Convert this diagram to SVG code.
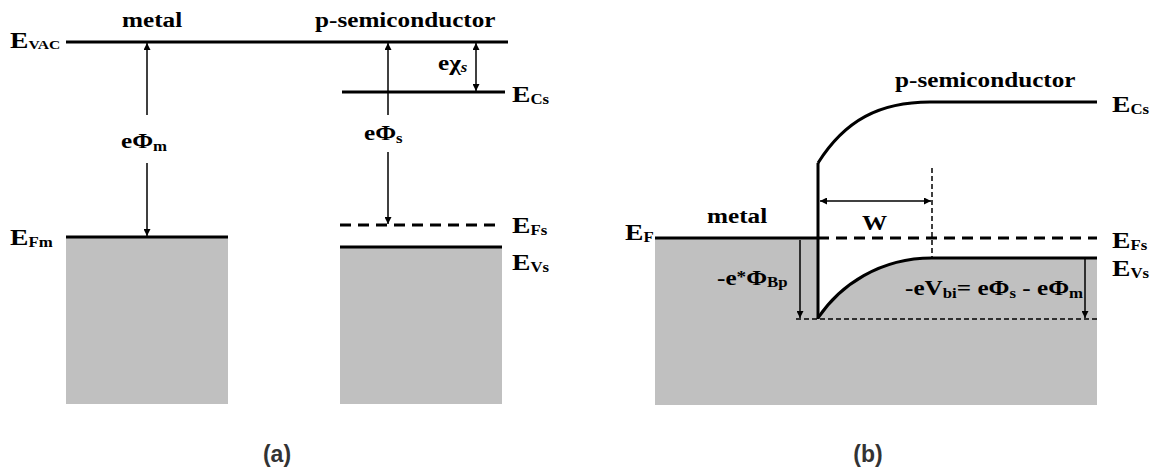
<svg xmlns="http://www.w3.org/2000/svg" width="1154" height="471" viewBox="0 0 1154 471">
<style>
.t{font-family:"Liberation Serif","Times New Roman",serif;font-weight:bold;font-size:21px;fill:#000}
.s{font-size:14px}
.cap{font-family:"Liberation Sans",Arial,sans-serif;font-weight:bold;font-size:23px;fill:#333;text-anchor:middle}
.lv{stroke:#000;stroke-width:3;fill:none}
.dl{stroke:#000;stroke-width:3;stroke-dasharray:11 7;fill:none}
.ar{stroke:#000;stroke-width:1.5;fill:none}
.td{stroke:#000;stroke-width:1.5;stroke-dasharray:5 3;fill:none}
.gr{fill:#c0c0c0}
</style>
<defs>
<marker id="ah" viewBox="0 0 10 10" refX="10" refY="5" markerWidth="8" markerHeight="7" orient="auto-start-reverse" markerUnits="userSpaceOnUse"><path d="M0,0 L10,5 L0,10 z" fill="#000"/></marker>
</defs>

<g id="panel-a">
<g id="a-metal">
<rect class="gr" x="66" y="237" width="162" height="167"/>
<line class="lv" x1="66" y1="237" x2="228" y2="237"/>
<text class="t" transform="translate(122,27) scale(1.2,1)">metal</text>
<text class="t" transform="translate(10,245) scale(1.2,1)"><tspan font-size="23">E</tspan><tspan class="s" dy="2">Fm</tspan></text>
</g>
<g id="a-vac">
<line class="lv" x1="66" y1="42" x2="508" y2="42"/>
<text class="t" transform="translate(10,48) scale(1.2,1)"><tspan font-size="23">E</tspan><tspan font-size="13" dy="1">VAC</tspan></text>
</g>
<g id="a-semi">
<rect class="gr" x="340" y="247" width="162" height="157"/>
<line class="lv" x1="340" y1="247" x2="502" y2="247"/>
<line class="lv" x1="342" y1="92" x2="505" y2="92"/>
<line class="dl" x1="340" y1="225" x2="502" y2="225"/>
<text class="t" transform="translate(315,27) scale(1.2,1)">p-semiconductor</text>
<text class="t" transform="translate(512,102) scale(1.2,1)"><tspan font-size="23">E</tspan><tspan class="s" dy="2">Cs</tspan></text>
<text class="t" transform="translate(512,233) scale(1.2,1)"><tspan font-size="23">E</tspan><tspan class="s" dy="2">Fs</tspan></text>
<text class="t" transform="translate(512,270) scale(1.2,1)"><tspan font-size="23">E</tspan><tspan class="s" dy="2">Vs</tspan></text>
</g>
<g id="a-labels">
<text class="t" transform="translate(121,148) scale(1.2,1)">eΦ<tspan class="s" dy="3">m</tspan></text>
<text class="t" transform="translate(364,140) scale(1.2,1)">eΦ<tspan class="s" dy="3">s</tspan></text>
<text class="t" transform="translate(438,70) scale(1.2,1)">eχ<tspan class="s" dy="2" font-style="italic">s</tspan></text>
</g>
<text class="cap" x="277" y="462">(a)</text>
</g>

<g id="panel-b">
<g id="b-metal">
<path class="gr" d="M655,238 L818,238 L818,318 C840,285 880,258 932,258 L1097,258 L1097,405 L655,405 Z"/>
<line class="lv" x1="655" y1="238" x2="818" y2="238"/>
<text class="t" transform="translate(707,223) scale(1.2,1)">metal</text>
<text class="t" transform="translate(625,240) scale(1.2,1)"><tspan font-size="23">E</tspan><tspan class="s" dy="2">F</tspan></text>
</g>
<g id="b-semi">
<line class="dl" x1="818" y1="238" x2="1097" y2="238"/>
<line class="lv" x1="818" y1="163" x2="818" y2="319"/>
<path class="lv" d="M818,163 C845,120 880,102 930,102 L1097,102"/>
<path class="lv" d="M818,318 C840,285 880,258 932,258 L1097,258"/>
<text class="t" transform="translate(895,87) scale(1.2,1)">p-semiconductor</text>
<text class="t" transform="translate(1112,112) scale(1.2,1)"><tspan font-size="23">E</tspan><tspan class="s" dy="2">Cs</tspan></text>
<text class="t" transform="translate(1112,248) scale(1.2,1)"><tspan font-size="23">E</tspan><tspan class="s" dy="2">Fs</tspan></text>
<text class="t" transform="translate(1112,276) scale(1.2,1)"><tspan font-size="23">E</tspan><tspan class="s" dy="2">Vs</tspan></text>
</g>
<g id="b-labels">
<text class="t" transform="translate(862,230) scale(1.2,1)">W</text>
<text class="t" transform="translate(717,285) scale(1.2,1)">-e<tspan font-size="16" dy="-3">*</tspan><tspan dy="3">Φ</tspan><tspan class="s" dy="2">Bp</tspan></text>
<text class="t" transform="translate(905,295) scale(1.2,1)">-eV<tspan class="s" dy="3">bi</tspan><tspan dy="-3">= eΦ</tspan><tspan class="s" dy="3">s</tspan><tspan dy="-3"> - eΦ</tspan><tspan class="s" dy="3">m</tspan></text>
</g>
<text class="cap" x="868" y="462">(b)</text>
</g>

<g id="connectors">
<path class="ar" d="M147,115 L147,43" marker-end="url(#ah)"/>
<path class="ar" d="M147,163 L147,236" marker-end="url(#ah)"/>
<path class="ar" d="M388,115 L388,43" marker-end="url(#ah)"/>
<path class="ar" d="M388,152 L388,224" marker-end="url(#ah)"/>
<path class="ar" d="M476,43 L476,91" marker-start="url(#ah)" marker-end="url(#ah)"/>
<path class="ar" d="M820,201 L931,201" marker-start="url(#ah)" marker-end="url(#ah)"/>
<line class="td" x1="932" y1="168" x2="932" y2="258"/>
<path class="ar" d="M800,240 L800,318" marker-end="url(#ah)"/>
<path class="ar" d="M1085,259 L1085,318" marker-end="url(#ah)"/>
<line class="td" x1="796" y1="319" x2="1097" y2="319"/>
</g>
</svg>
